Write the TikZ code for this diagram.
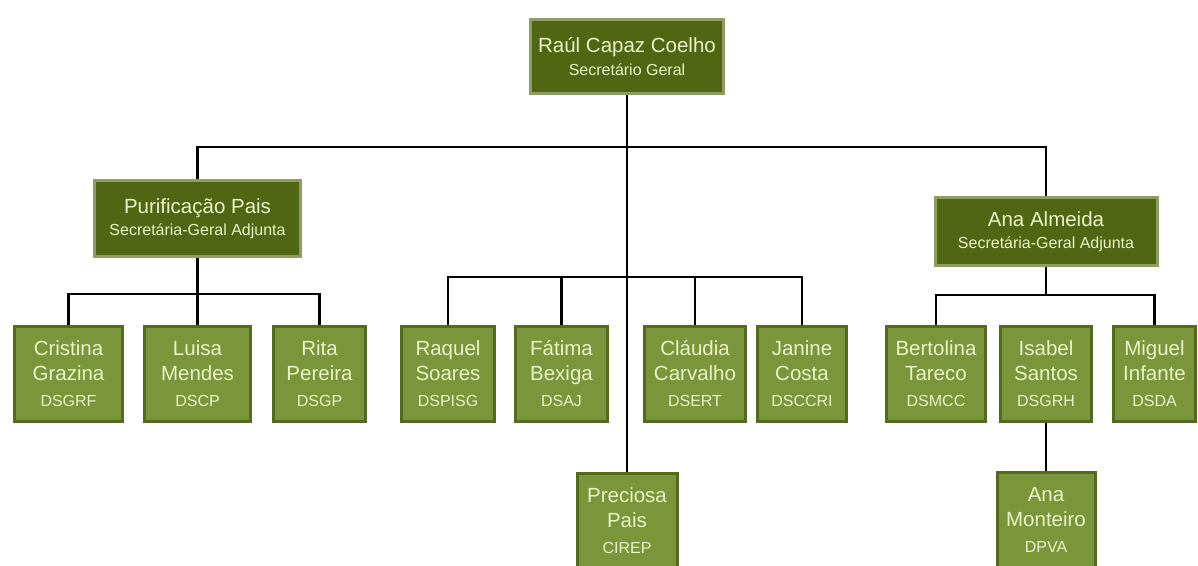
\documentclass[tikz,border=0pt]{standalone}
\usepackage{fontspec}
\setmainfont{Liberation Sans}
\usepackage{xcolor}
\usetikzlibrary{positioning}
\definecolor{chieffill}{RGB}{80,102,18}
\definecolor{chiefline}{RGB}{142,158,98}
\definecolor{unitfill}{RGB}{122,149,58}
\definecolor{unitline}{RGB}{84,106,30}
\definecolor{paletext}{RGB}{234,242,200}
\pgfdeclarelayer{edgelayer}
\pgfsetlayers{edgelayer,main}

\begin{document}
\begin{tikzpicture}[x=1pt,y=-1pt,
chief/.style={draw=chiefline,line width=3pt,fill=chieffill,text=paletext,align=center,inner sep=0pt,font=\fontsize{20.5}{24}\selectfont},
unit/.style={draw=unitline,line width=3pt,fill=unitfill,text=paletext,align=center,inner sep=0pt,minimum height=95pt,font=\fontsize{20.5}{25}\selectfont},
link/.style={line width=2.8pt,black}]
\useasboundingbox (0,0) rectangle (1198,565);
\node[chief,minimum width=193pt,minimum height=74pt] (RCC) at (627,56.5) {Raúl Capaz Coelho\\[-1pt]{\fontsize{16}{24}\selectfont Secretário Geral}};
\node[chief,minimum width=206pt,minimum height=76pt] (PP) at (197.5,218.5) {Purificação Pais\\[-2pt]{\fontsize{16}{22}\selectfont Secretária-Geral Adjunta}};
\node[chief,minimum width=222pt,minimum height=68pt] (AA) at (1046,231.5) {Ana Almeida\\[-2pt]{\fontsize{16}{22}\selectfont Secretária-Geral Adjunta}};
\node[unit,minimum width=108pt] (CG) at (68.5,374) {Cristina\\Grazina\\[1pt]{\fontsize{16}{25}\selectfont DSGRF}};
\node[unit,minimum width=106pt] (LM) at (197.5,374) {Luisa\\Mendes\\[1pt]{\fontsize{16}{25}\selectfont DSCP}};
\node[unit,minimum width=92pt] (RP) at (319.5,374) {Rita\\Pereira\\[1pt]{\fontsize{16}{25}\selectfont DSGP}};
\node[unit,minimum width=93pt] (RS) at (448,374) {Raquel\\Soares\\[1pt]{\fontsize{16}{25}\selectfont DSPISG}};
\node[unit,minimum width=92pt] (FB) at (561.5,374) {Fátima\\Bexiga\\[1pt]{\fontsize{16}{25}\selectfont DSAJ}};
\node[unit,minimum width=101pt] (CC) at (695,374) {Cláudia\\Carvalho\\[1pt]{\fontsize{16}{25}\selectfont DSERT}};
\node[unit,minimum width=89pt] (JC) at (802,374) {Janine\\Costa\\[1pt]{\fontsize{16}{25}\selectfont DSCCRI}};
\node[unit,minimum width=99pt] (BT) at (936,374) {Bertolina\\Tareco\\[1pt]{\fontsize{16}{25}\selectfont DSMCC}};
\node[unit,minimum width=91pt] (IS) at (1046,374) {Isabel\\Santos\\[1pt]{\fontsize{16}{25}\selectfont DSGRH}};
\node[unit,minimum width=82pt] (MI) at (1154.5,374) {Miguel\\Infante\\[1pt]{\fontsize{16}{25}\selectfont DSDA}};
\node[unit,minimum width=100pt] (PRP) at (627,521) {Preciosa\\Pais\\[1pt]{\fontsize{16}{25}\selectfont CIREP}};
\node[unit,minimum width=98pt] (AM) at (1046,520) {Ana\\Monteiro\\[1pt]{\fontsize{16}{25}\selectfont DPVA}};
\coordinate (topbar) at (627,147);
\coordinate (leftbar) at (197.5,294);
\coordinate (midbar) at (627,277);
\coordinate (rightbar) at (1046,295);
\begin{pgfonlayer}{edgelayer}
\draw[link] (RCC) -- (PRP);
\draw[link] (PP) |- (topbar) -| (AA);
\draw[link] (PP) -- (leftbar);
\draw[link] (CG) |- (leftbar) -| (RP);
\draw[link] (leftbar) -- (LM);
\draw[link] (RS) |- (midbar) -| (JC);
\draw[link] (FB) |- (midbar);
\draw[link] (CC) |- (midbar);
\draw[link] (AA) -- (rightbar);
\draw[link] (BT) |- (rightbar) -| (MI);
\draw[link] (IS) -- (AM);
\end{pgfonlayer}
\end{tikzpicture}
\end{document}
